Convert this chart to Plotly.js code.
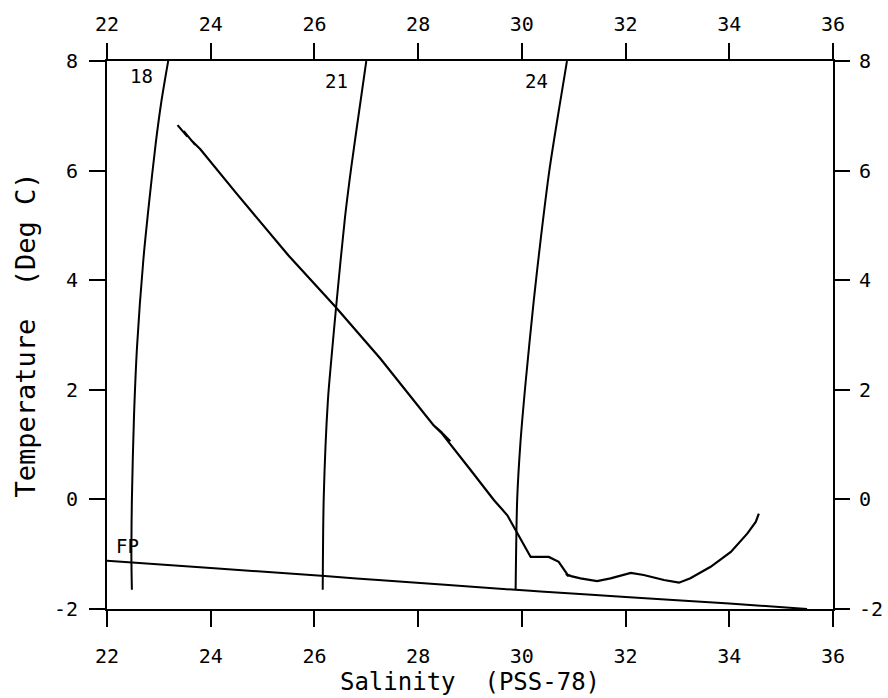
<!DOCTYPE html>
<html>
<head>
<meta charset="utf-8">
<script src="https://cdn.plot.ly/plotly-3.0.1.min.js"></script>
<style>html,body{margin:0;padding:0;background:#fff;}#chart{width:888px;height:698px;}</style>
</head>
<body>
<div id="chart"></div>
<script>
// Isopycnal (sigma-t) lines
var sig18S = [23.18, 23.05, 22.94, 22.81, 22.70, 22.58, 22.52, 22.48, 22.47, 22.48];
var sig18T = [8.0, 7.27, 6.5, 5.4, 4.36, 2.8, 1.5, 0.0, -1.0, -1.65];
var sig21S = [27.0, 26.89, 26.71, 26.59, 26.43, 26.33, 26.26, 26.18, 26.16];
var sig21T = [8.0, 7.27, 6.06, 5.15, 3.63, 2.6, 1.81, 0.05, -1.65];
var sig24S = [30.87, 30.73, 30.53, 30.37, 30.23, 30.07, 29.97, 29.91, 29.88];
var sig24T = [8.0, 7.2, 6.0, 4.8, 3.63, 2.11, 1.0, 0.0, -1.65];

// Freezing point line
var fpS = [22.0, 24.0, 26.2, 27.23, 29.88, 30.36, 32.0, 34.0, 35.5];
var fpT = [-1.12, -1.25, -1.40, -1.47, -1.65, -1.68, -1.78, -1.90, -2.0];

// Measured T-S profile
var profS = [23.36, 23.55, 23.48, 23.70, 23.62, 23.80, 24.5, 25.5, 26.40, 27.27, 28.0, 28.30, 28.46, 28.32, 28.55, 28.42, 28.62, 28.46, 29.0, 29.46, 29.72, 29.91, 30.17, 30.52, 30.71, 30.84, 30.90, 30.85, 30.95, 31.13, 31.45, 31.71, 32.10, 32.35, 32.74, 33.03, 33.25, 33.64, 34.03, 34.35, 34.51, 34.57];
var profT = [6.83, 6.62, 6.72, 6.47, 6.56, 6.39, 5.58, 4.45, 3.52, 2.57, 1.72, 1.35, 1.22, 1.33, 1.12, 1.25, 1.06, 1.20, 0.55, -0.01, -0.29, -0.62, -1.05, -1.05, -1.14, -1.32, -1.40, -1.36, -1.40, -1.44, -1.49, -1.44, -1.34, -1.38, -1.47, -1.52, -1.44, -1.23, -0.96, -0.62, -0.41, -0.26];

// Axis ticks
var sTicks = [22, 24, 26, 28, 30, 32, 34, 36];
var tTicks = [-2, 0, 2, 4, 6, 8];

// Line labels
var labelText = ['18', '21', '24', 'FP'];
var labelS = [22.67, 26.43, 30.29, 22.39];
var labelT = [7.73, 7.64, 7.64, -0.85];

var MONO = 'DejaVu Sans Mono';
var lineStyle = {color: '#000', width: 2, shape: 'spline', smoothing: 0.8};

var traces = [
  {x: sig18S, y: sig18T, mode: 'lines', line: lineStyle, hoverinfo: 'skip'},
  {x: sig21S, y: sig21T, mode: 'lines', line: lineStyle, hoverinfo: 'skip'},
  {x: sig24S, y: sig24T, mode: 'lines', line: lineStyle, hoverinfo: 'skip'},
  {x: profS, y: profT, mode: 'lines', line: {color: '#000', width: 2.2}, hoverinfo: 'skip'},
  {x: fpS, y: fpT, xaxis: 'x2', yaxis: 'y2', mode: 'lines', line: lineStyle, hoverinfo: 'skip'}
];

var annotations = labelText.map(function (t, i) {
  return {x: labelS[i], y: labelT[i], xref: 'x', yref: 'y', text: t, showarrow: false,
          font: {family: MONO, size: 19, color: '#000'}};
});

var axBase = {
  tickvals: sTicks, ticktext: sTicks.map(String),
  showline: true, linecolor: '#000', linewidth: 2,
  ticks: 'outside', ticklen: 16, tickwidth: 2, tickcolor: '#000',
  showgrid: false, zeroline: false,
  tickfont: {family: MONO, size: 20, color: '#000'},
  ticklabelstandoff: 12
};

function ax(extra) { return Object.assign({}, axBase, extra); }

var layout = {
  width: 888, height: 698,
  margin: {l: 107, r: 55, t: 61, b: 89},
  paper_bgcolor: '#fff', plot_bgcolor: '#fff',
  showlegend: false,
  xaxis: ax({range: [22, 36], side: 'bottom',
    title: {text: 'Salinity  (PSS-78)', font: {family: MONO, size: 24, color: '#000'}, standoff: 6}}),
  yaxis: ax({range: [-2, 8], tickvals: tTicks, ticktext: tTicks.map(String), side: 'left',
    ticklabelstandoff: 7,
    title: {text: 'Temperature  (Deg C)', font: {family: MONO, size: 27, color: '#000'}, standoff: 10}}),
  xaxis2: ax({range: [22, 36], side: 'top', overlaying: 'x', anchor: 'y2', ticklabelstandoff: 4}),
  yaxis2: ax({range: [-2, 8], tickvals: tTicks, ticktext: tTicks.map(String), side: 'right', overlaying: 'y', anchor: 'x2',
    ticklen: 15, ticklabelstandoff: 5}),
  annotations: annotations
};

Plotly.newPlot('chart', traces, layout, {staticPlot: true, displayModeBar: false});
</script>
</body>
</html>
